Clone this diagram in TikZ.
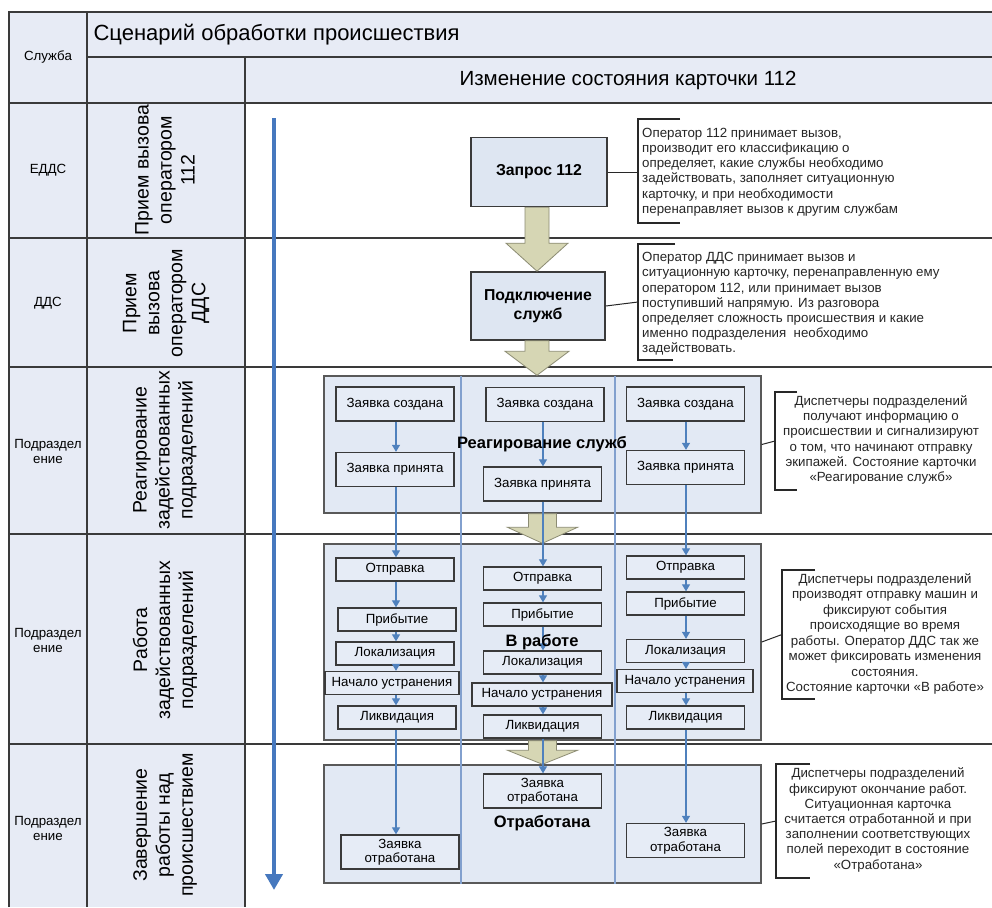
\documentclass[tikz,border=0pt]{standalone}
\usepackage{fontspec}
\setmainfont{Liberation Sans}
\usetikzlibrary{calc,arrows.meta}
\definecolor{hdr}{RGB}{231,235,245}
\definecolor{gridc}{RGB}{58,58,58}
\definecolor{boxf}{RGB}{222,230,242}
\definecolor{contf}{RGB}{226,233,244}
\definecolor{subf}{RGB}{230,236,246}
\definecolor{laneb}{RGB}{130,160,206}
\definecolor{connb}{RGB}{79,129,189}
\definecolor{bigb}{RGB}{70,120,190}
\definecolor{khf}{RGB}{214,214,180}
\definecolor{khl}{RGB}{140,140,115}
\definecolor{notecol}{RGB}{40,40,40}
\newcommand{\kharrow}[5]{%
  \filldraw[kh] ($(#2 |- #1)+(-#3,0)$) -- ($(#2 |- #1)+(#3,0)$) -- ($(#2)+(#3,-#5)$) -- ($(#2)+(#4,-#5)$) -- (#2) -- ($(#2)+(-#4,-#5)$) -- ($(#2)+(-#3,-#5)$) -- cycle;}
\begin{document}
\begin{tikzpicture}[x=1pt,y=-1pt,
  gridline/.style={draw=gridc, line width=1.6pt},
  bigbox/.style={draw=gridc, line width=1.6pt, fill=boxf, font=\bfseries\fontsize{15.8}{19}\selectfont, align=center, inner sep=0pt},
  cont/.style={draw=gray!70!black, line width=1.4pt, fill=contf, inner sep=0pt},
  sbox/.style={draw=gridc, line width=1.3pt, fill=subf, font=\fontsize{13.3}{14.5}\selectfont, align=center, inner sep=0pt, minimum width=118pt, minimum height=34pt},
  tbox/.style={sbox, minimum height=23pt},
  lane/.style={draw=laneb, line width=1.2pt},
  conn/.style={draw=connb, line width=1.2pt, -{Triangle[width=8pt,length=7pt]}},
  kh/.style={fill=khf, draw=khl, line width=0.8pt},
  bracket/.style={draw=notecol, line width=1.3pt},
  nline/.style={draw=notecol, line width=1pt},
  notelft/.style={font=\fontsize{13.3}{15.2}\selectfont, align=left, inner sep=0pt, text=black!85},
  notectr/.style={font=\fontsize{13.3}{15.2}\selectfont, align=center, inner sep=0pt, text=black!85},
  rotlab/.style={rotate=90, align=center, font=\fontsize{19.5}{23}\selectfont},
  smalllab/.style={font=\fontsize{13.3}{15}\selectfont, align=center},
  statelab/.style={font=\bfseries\fontsize{16.5}{19}\selectfont}
]
\useasboundingbox (0,0) rectangle (992,907);
\fill[white] (0,0) rectangle (992,907);
% table fills
\fill[hdr] (9,12) rectangle (992,103);
\fill[hdr] (9,103) rectangle (245,907);
% grid
\draw[gridline] (9,907) -- (9,12) -- (992,12);
\draw[gridline] (87,12) -- (87,907);
\draw[gridline] (87,57) -- (992,57);
\draw[gridline] (245,57) -- (245,907);
\foreach \yy in {103,238,367,534,744} \draw[gridline] (9,\yy) -- (992,\yy);
% header texts
\node[anchor=west, font=\fontsize{22}{26}\selectfont] (title) at (90,35) {Сценарий обработки происшествия};
\node[font=\fontsize{20.5}{24}\selectfont] (subt) at (628,80) {Изменение состояния карточки 112};
\node[smalllab] (sl) at (48,57) {Служба};
\node[smalllab] (s1) at (48,170) {ЕДДС};
\node[smalllab] (s2) at (48,303) {ДДС};
\node[smalllab] (s3) at (48,451) {Подраздел\\ение};
\node[smalllab] (s4) at (48,640) {Подраздел\\ение};
\node[smalllab] (s5) at (48,828) {Подраздел\\ение};
\node[rotlab] (r1) at (165,170) {Прием вызова\\оператором\\112};
\node[rotlab] (r2) at (166,303) {Прием\\вызова\\оператором\\ДДС};
\node[rotlab] (r3) at (165,450) {Реагирование\\задействованных\\подразделений};
\node[rotlab] (r4) at (165,640) {Работа\\задействованных\\подразделений};
\node[rotlab] (r5) at (165,825) {Завершение\\работы над\\происшествием};
% big blue time arrow
\coordinate (bt) at (274,118);
\coordinate (bb) at (274,890);
\draw[bigb, line width=4.5pt, -{Triangle[width=17pt,length=16pt]}] (bt) -- (bb);
% main boxes
\node[bigbox, minimum width=136pt, minimum height=69pt] (q) at (539,172) {Запрос 112};
\node[bigbox, minimum width=134pt, minimum height=68pt] (p) at (538,306) {Подключение\\служб};
% containers
\node[cont, minimum width=437pt, minimum height=137pt] (c3) at (542.5,444.5) {};
\node[cont, minimum width=437pt, minimum height=196pt] (c4) at (542.5,642) {};
\node[cont, minimum width=437pt, minimum height=118pt] (c5) at (542.5,824) {};
% khaki block arrows
\coordinate (t1) at (p.north -| 537,0);
\coordinate (s1a) at (q.south -| 537,0);
\coordinate (s2a) at (p.south -| 537,0);
\coordinate (t2) at (c3.north -| 537,0);
\kharrow{s1a}{t1}{12}{31}{28}
\kharrow{s2a}{t2}{12}{32}{24}
\kharrow{c3.south}{c4.north}{14}{35}{16}
\kharrow{c4.south}{c5.north}{14}{35}{14}
% lanes
\draw[lane] (461,376) -- (461,884);
\draw[lane] (615,376) -- (615,884);
% section 3 boxes
\node[sbox] (L1) at (395,404) {Заявка создана};
\node[sbox] (L2) at (395,469.5) {Заявка принята};
\node[sbox] (M1) at (545,404.5) {Заявка создана};
\node[sbox] (M2) at (542.5,484) {Заявка принята};
\node[sbox] (R1) at (685.5,404) {Заявка создана};
\node[sbox] (R2) at (685.5,467.5) {Заявка принята};
% section 4 boxes
\node[tbox] (L3) at (395,569.5) {Отправка};
\node[tbox] (L4) at (397,619.5) {Прибытие};
\node[tbox] (L5) at (395,653.5) {Локализация};
\node[tbox, minimum width=134pt] (L6) at (392,683) {Начало устранения};
\node[tbox] (L7) at (397,717.5) {Ликвидация};
\node[tbox] (M3) at (542.5,578.5) {Отправка};
\node[tbox] (M4) at (542.5,614.5) {Прибытие};
\node[tbox] (M5) at (542.5,662.5) {Локализация};
\node[tbox, minimum width=140pt] (M6) at (542,694.5) {Начало устранения};
\node[tbox] (M7) at (542.5,726.5) {Ликвидация};
\node[tbox] (R3) at (685.5,567.5) {Отправка};
\node[tbox] (R4) at (685.5,603.5) {Прибытие};
\node[tbox] (R5) at (685.5,651) {Локализация};
\node[tbox, minimum width=136pt] (R6) at (685,681) {Начало устранения};
\node[tbox] (R7) at (685.5,717.5) {Ликвидация};
% section 5 boxes
\node[sbox] (L8) at (400,852) {Заявка\\отработана};
\node[sbox] (M8) at (542.5,791) {Заявка\\отработана};
\node[sbox] (R8) at (685.5,840.5) {Заявка\\отработана};
% column connectors
\coordinate (xL) at (396,0);
\coordinate (xM) at (543,0);
\coordinate (xR) at (686,0);
\foreach \a/\b in {L1/L2,L2/L3,L3/L4,L4/L5,L5/L6,L6/L7,L7/L8}
  \draw[conn] (\a.south -| xL) -- (\b.north -| xL);
\foreach \a/\b in {M1/M2,M2/M3,M3/M4,M4/M5,M5/M6,M6/M7,M7/M8}
  \draw[conn] (\a.south -| xM) -- (\b.north -| xM);
\foreach \a/\b in {R1/R2,R2/R3,R3/R4,R4/R5,R5/R6,R6/R7,R7/R8}
  \draw[conn] (\a.south -| xR) -- (\b.north -| xR);
% state labels
\node[statelab] (st3) at (542,444) {Реагирование служб};
\node[statelab] (st4) at (542,642) {В работе};
\node[statelab] (st5) at (542,823) {Отработана};
% notes
\node[notelft, anchor=west] (n1) at (642,172) {Оператор 112 принимает вызов,\\производит его классификацию о\\определяет, какие службы необходимо\\задействовать, заполняет ситуационную\\карточку, и при необходимости\\перенаправляет вызов к другим службам};
\node[notelft, anchor=west] (n2) at (642,304) {Оператор ДДС принимает вызов и\\ситуационную карточку, перенаправленную ему\\оператором 112, или принимает вызов\\поступивший напрямую. Из разговора\\определяет сложность происшествия и какие\\именно подразделения\ \ необходимо\\задействовать.};
\node[notectr] (n3) at (881,440) {Диспетчеры подразделений\\получают информацию о\\происшествии и сигнализируют\\о том, что начинают отправку\\экипажей. Состояние карточки\\«Реагирование служб»};
\node[notectr, font=\fontsize{13.3}{15.5}\selectfont] (n4) at (885,634) {Диспетчеры подразделений\\производят отправку машин и\\фиксируют события\\происходящие во время\\работы. Оператор ДДС так же\\может фиксировать изменения\\состояния.\\Состояние карточки «В работе»};
\node[notectr] (n5) at (878,820) {Диспетчеры подразделений\\фиксируют окончание работ.\\Ситуационная карточка\\считается отработанной и при\\заполнении соответствующих\\полей переходит в состояние\\«Отработана»};
% brackets
\coordinate (b1t) at (638,119); \coordinate (b1b) at (638,223);
\coordinate (b2t) at (638,244); \coordinate (b2b) at (638,360);
\coordinate (b3t) at (775,392); \coordinate (b3b) at (775,490);
\coordinate (b4t) at (782,570); \coordinate (b4b) at (782,699);
\coordinate (b5t) at (776,764); \coordinate (b5b) at (776,878);
\draw[bracket] ($(b1t)+(42,0)$) -- (b1t) -- (b1b) -- ($(b1b)+(42,0)$);
\draw[bracket] ($(b2t)+(37,0)$) -- (b2t) -- (b2b) -- ($(b2b)+(35,0)$);
\draw[bracket] ($(b3t)+(22,0)$) -- (b3t) -- (b3b) -- ($(b3b)+(22,0)$);
\draw[bracket] ($(b4t)+(33,0)$) -- (b4t) -- (b4b) -- ($(b4b)+(33,0)$);
\draw[bracket] ($(b5t)+(34,0)$) -- (b5t) -- (b5b) -- ($(b5b)+(34,0)$);
\draw[nline] (q.east) -- (q.east -| b1t);
\draw[nline] (p.east) -- ($(b2t)!0.5!(b2b)$);
\draw[nline] (c3.east) -- ($(b3t)!0.5!(b3b)$);
\draw[nline] (c4.east) -- ($(b4t)!0.5!(b4b)$);
\draw[nline] (c5.east) -- ($(b5t)!0.5!(b5b)$);
\end{tikzpicture}
\end{document}
